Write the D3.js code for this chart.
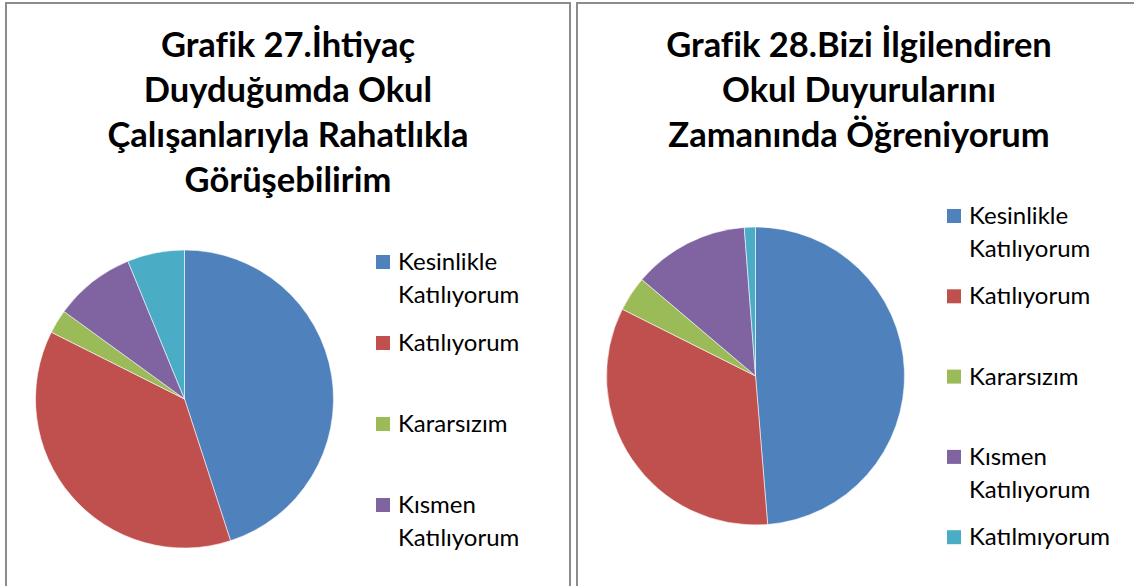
<!DOCTYPE html>
<html lang="tr">
<head>
<meta charset="utf-8">
<title>Grafik 27 - 28</title>
<script src="https://d3js.org/d3.v7.min.js"></script>
<style>
  body { margin: 0; background: #fff; }
  .frame { fill: none; stroke: #8c8c8c; stroke-width: 2; }
  .title text { font-family: Lato, "Open Sans", sans-serif; font-weight: bold; font-size: 34.5px; fill: #000; }
  .legend text { font-family: Lato, "Open Sans", sans-serif; font-size: 24px; fill: #000; }
  .slice { stroke: #fff; stroke-width: 0.7; stroke-opacity: 0.8; }
</style>
</head>
<body>
<script>
var categories = ["Kesinlikle Katılıyorum", "Katılıyorum", "Kararsızım", "Kısmen Katılıyorum", "Katılmıyorum"];
var colors = ["#4f81bd", "#c0504d", "#9bbb59", "#8064a2", "#4bacc6"];

// percentages
var values27 = [45.0, 37.4, 2.6, 8.8, 6.2];
var values28 = [48.7, 33.7, 3.8, 12.6, 1.2];

var title27 = ["Grafik 27.İhtiyaç", "Duyduğumda Okul", "Çalışanlarıyla Rahatlıkla", "Görüşebilirim"];
var title28 = ["Grafik 28.Bizi İlgilendiren", "Okul Duyurularını", "Zamanında Öğreniyorum"];

var W = 1134, H = 586;
var panelW = 564, radius = 149;

var color = d3.scaleOrdinal().domain(categories).range(colors);

var svg = d3.select("body").append("svg")
  .attr("width", W)
  .attr("height", H);

function drawChart(o) {
  var g = svg.append("g").attr("transform", "translate(" + o.x + ",3)");

  g.append("rect")
    .attr("class", "frame")
    .attr("width", panelW)
    .attr("height", H + 20);

  // title
  g.append("g").attr("class", "title")
    .selectAll("text")
    .data(o.title)
    .enter().append("text")
      .attr("x", panelW / 2)
      .attr("y", function (d, i) { return 54 + i * 45; })
      .attr("text-anchor", "middle")
      .text(function (d) { return d; });

  var data = categories.map(function (c, i) { return { name: c, v: o.values[i] }; });

  var pie = d3.pie().sort(null).value(function (d) { return d.v; });
  var arc = d3.arc().innerRadius(0).outerRadius(radius);

  g.append("g")
    .attr("transform", "translate(178.5," + o.cy + ")")
    .selectAll("path")
    .data(pie(data))
    .enter().append("path")
      .attr("class", "slice")
      .attr("fill", function (d) { return color(d.data.name); })
      .attr("d", arc);

  // legend (chart 27 only shows the first four entries)
  var item = g.append("g").attr("class", "legend")
    .selectAll("g")
    .data(categories.slice(0, o.legendCount))
    .enter().append("g")
      .attr("transform", function (d, i) { return "translate(370," + (o.legendTop + i * o.step) + ")"; });

  item.append("rect")
    .attr("width", 14)
    .attr("height", 14)
    .attr("fill", function (d) { return color(d); });

  item.selectAll("text")
    .data(function (d) { return d.split(" "); })
    .enter().append("text")
      .attr("x", 22)
      .attr("y", function (d, i) { return 15 + i * 33; })
      .text(function (d) { return d; });
}

drawChart({ x: 6, title: title27, values: values27, cy: 396, legendTop: 252, step: 81, legendCount: 4 });
drawChart({ x: 577, title: title28, values: values28, cy: 373, legendTop: 206, step: 80.3, legendCount: 5 });
</script>
</body>
</html>
